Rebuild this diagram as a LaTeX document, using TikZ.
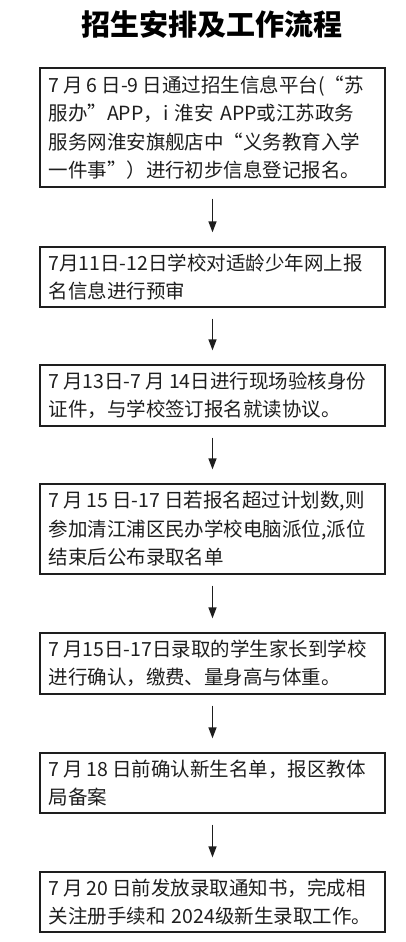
\documentclass[tikz,border=0pt]{standalone}
\usepackage{fontspec}
\setmainfont{Noto Sans CJK SC}
\newfontfamily\cjk{Noto Sans CJK SC}
\usetikzlibrary{arrows.meta}
\definecolor{ink}{HTML}{1E1E1E}
\newcommand{\gp}{\hspace{4pt}}
\tikzset{
  stepbox/.style={draw=ink, line width=1.3pt, rectangle, text=ink,
    text width=328pt, inner xsep=8.5pt, inner ysep=0pt, align=left,
    minimum width=345pt, font=\cjk\fontsize{19.5}{28.5}\selectfont},
  flow/.style={draw=ink, line width=1.4pt, -{Triangle[length=11pt,width=8pt]},
    shorten <=11pt, shorten >=14pt},
  heading/.style={font=\cjk\bfseries\fontsize{29}{34}\selectfont, text=black, inner sep=0pt}
}
\begin{document}
\begin{tikzpicture}[x=1pt,y=-1pt]
\useasboundingbox (0,0) rectangle (406,942);
\node[heading] (title) at (212,25) {招生安排及工作流程};
\node[stepbox, minimum height=119pt] (b1) at (212.5,127.5)
  {7\gp{}月\gp{}6\gp{}日-9\gp{}日通过招生信息平台(“苏\\服办”APP，i 淮安 APP或江苏政务\\服务网淮安旗舰店中“义务教育入学\\一件事”）进行初步信息登记报名。};
\node[stepbox, minimum height=60pt] (b2) at (212.5,277)
  {7月11日-12日学校对适龄少年网上报\\名信息进行预审};
\node[stepbox, minimum height=61pt] (b3) at (212.5,395.5)
  {7\gp{}月13日-7\gp{}月\gp{}14日进行现场验核身份\\证件，与学校签订报名就读协议。};
\node[stepbox, minimum height=90pt] (b4) at (212.5,529)
  {7\gp{}月\gp{}15\gp{}日-17\gp{}日若报名超过计划数,则\\参加清江浦区民办学校电脑派位,派位\\结束后公布录取名单};
\node[stepbox, minimum height=61pt] (b5) at (212.5,663.5)
  {7\gp{}月15日-17日录取的学生家长到学校\\进行确认，缴费、量身高与体重。};
\node[stepbox, minimum height=60pt] (b6) at (212.5,783)
  {7\gp{}月\gp{}18\gp{}日前确认新生名单，报区教体\\局备案};
\node[stepbox, minimum height=60pt] (b7) at (212.5,902)
  {7\gp{}月\gp{}20\gp{}日前发放录取通知书，完成相\\关注册手续和 2024级新生录取工作。};
\draw[flow] (b1.south) -- (b2.north);
\draw[flow] (b2.south) -- (b3.north);
\draw[flow] (b3.south) -- (b4.north);
\draw[flow] (b4.south) -- (b5.north);
\draw[flow] (b5.south) -- (b6.north);
\draw[flow] (b6.south) -- (b7.north);
\end{tikzpicture}
\end{document}
